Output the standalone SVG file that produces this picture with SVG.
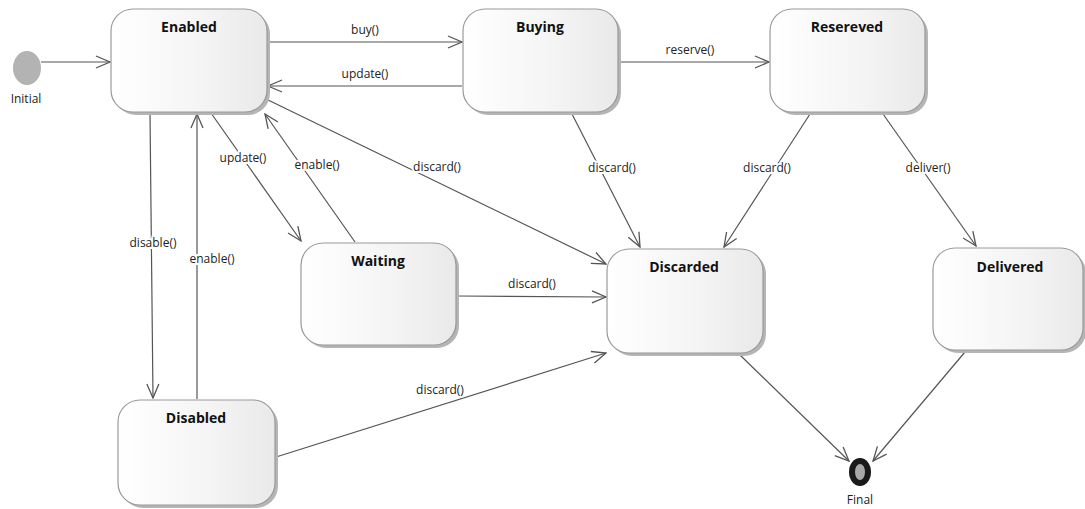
<svg xmlns="http://www.w3.org/2000/svg" width="1085" height="509" viewBox="0 0 1085 509">
  <style>
    .box { fill: url(#stateFill); stroke: #9a9a9a; stroke-width: 1.2; }
    .shadow { fill: #b5b5b5; }
    .title { font-family: "Open Sans", "Liberation Sans", sans-serif; font-weight: bold; font-size: 14px; fill: #111; text-anchor: middle; }
    .lbl { font-family: "Open Sans", "Liberation Sans", sans-serif; font-size: 12px; fill: #222; text-anchor: middle; stroke: #fff; stroke-width: 4px; paint-order: stroke; stroke-linejoin: round; }
    .edge { stroke: #555; stroke-width: 1.2; fill: none; marker-end: url(#open); }
  </style>
  <defs>
    <linearGradient id="stateFill" x1="0" y1="0" x2="1" y2="0">
      <stop offset="0" stop-color="#ffffff"/>
      <stop offset="0.6" stop-color="#f4f4f4"/>
      <stop offset="1" stop-color="#e9e9e9"/>
    </linearGradient>
    <marker id="open" viewBox="0 0 16 14" refX="15" refY="7" markerWidth="16" markerHeight="14" markerUnits="userSpaceOnUse" orient="auto">
      <path d="M1,1 L15,7 L1,13" fill="none" stroke="#555" stroke-width="1.3"/>
    </marker>
  </defs>

  <!-- connectors -->
  <g id="connectors">
    <line class="edge" x1="41" y1="62" x2="110" y2="62"/>
    <line class="edge" x1="268" y1="42" x2="462" y2="42"/>
    <line class="edge" x1="462" y1="86" x2="268" y2="86"/>
    <line class="edge" x1="619" y1="62" x2="769" y2="62"/>
    <line class="edge" x1="572" y1="114" x2="640" y2="247"/>
    <line class="edge" x1="810" y1="114" x2="724" y2="247"/>
    <line class="edge" x1="883" y1="114" x2="976" y2="246"/>
    <line class="edge" x1="266" y1="99" x2="606" y2="264"/>
    <line class="edge" x1="211" y1="113" x2="301" y2="241"/>
    <line class="edge" x1="355" y1="242" x2="265" y2="114"/>
    <line class="edge" x1="150" y1="113" x2="153" y2="398"/>
    <line class="edge" x1="197" y1="399" x2="197" y2="114"/>
    <line class="edge" x1="457" y1="296" x2="606" y2="297"/>
    <line class="edge" x1="276" y1="457" x2="606" y2="353"/>
    <line class="edge" x1="740" y1="355" x2="849" y2="461"/>
    <line class="edge" x1="965" y1="352" x2="873" y2="461"/>

    <text class="lbl" x="365" y="34">buy()</text>
    <text class="lbl" x="365" y="78">update()</text>
    <text class="lbl" x="690" y="54">reserve()</text>
    <text class="lbl" x="612" y="172">discard()</text>
    <text class="lbl" x="767" y="172">discard()</text>
    <text class="lbl" x="928" y="172">deliver()</text>
    <text class="lbl" x="437" y="171">discard()</text>
    <text class="lbl" x="243" y="162">update()</text>
    <text class="lbl" x="317" y="169">enable()</text>
    <text class="lbl" x="153" y="247">disable()</text>
    <text class="lbl" x="212" y="263">enable()</text>
    <text class="lbl" x="532" y="288">discard()</text>
    <text class="lbl" x="440" y="394">discard()</text>
  </g>

  <g id="initial">
    <ellipse cx="27" cy="68" rx="14" ry="17" fill="#b3b3b3"/>
    <text x="26" y="103" font-family="Open Sans, Liberation Sans, sans-serif" font-size="12" fill="#222" text-anchor="middle">Initial</text>
  </g>

  <g id="enabled">
    <rect class="shadow" x="114" y="12" width="156" height="103" rx="22"/>
    <rect class="box" x="111" y="9" width="156" height="103" rx="22"/>
    <text class="title" x="189" y="32">Enabled</text>
  </g>

  <g id="buying">
    <rect class="shadow" x="466" y="12" width="155" height="103" rx="22"/>
    <rect class="box" x="463" y="9" width="155" height="103" rx="22"/>
    <text class="title" x="540" y="32">Buying</text>
  </g>

  <g id="reserved">
    <rect class="shadow" x="773" y="12" width="155" height="103" rx="22"/>
    <rect class="box" x="770" y="9" width="155" height="103" rx="22"/>
    <text class="title" x="847" y="32">Resereved</text>
  </g>

  <g id="waiting">
    <rect class="shadow" x="304" y="246" width="155" height="102" rx="22"/>
    <rect class="box" x="301" y="243" width="155" height="102" rx="22"/>
    <text class="title" x="378" y="266">Waiting</text>
  </g>

  <g id="discarded">
    <rect class="shadow" x="610" y="252" width="156" height="104" rx="22"/>
    <rect class="box" x="607" y="249" width="156" height="104" rx="22"/>
    <text class="title" x="684" y="272">Discarded</text>
  </g>

  <g id="delivered">
    <rect class="shadow" x="936" y="251" width="150" height="102" rx="22"/>
    <rect class="box" x="933" y="248" width="150" height="102" rx="22"/>
    <text class="title" x="1010" y="272">Delivered</text>
  </g>

  <g id="disabled">
    <rect class="shadow" x="121" y="403" width="157" height="105" rx="22"/>
    <rect class="box" x="118" y="400" width="157" height="105" rx="22"/>
    <text class="title" x="196" y="423">Disabled</text>
  </g>

  <g id="final">
    <ellipse cx="860" cy="472" rx="11" ry="14" fill="#1a1a1a"/>
    <ellipse cx="860" cy="472" rx="5" ry="8" fill="#a8a8a8"/>
    <text x="860" y="504" font-family="Open Sans, Liberation Sans, sans-serif" font-size="12" fill="#222" text-anchor="middle">Final</text>
  </g>
</svg>
